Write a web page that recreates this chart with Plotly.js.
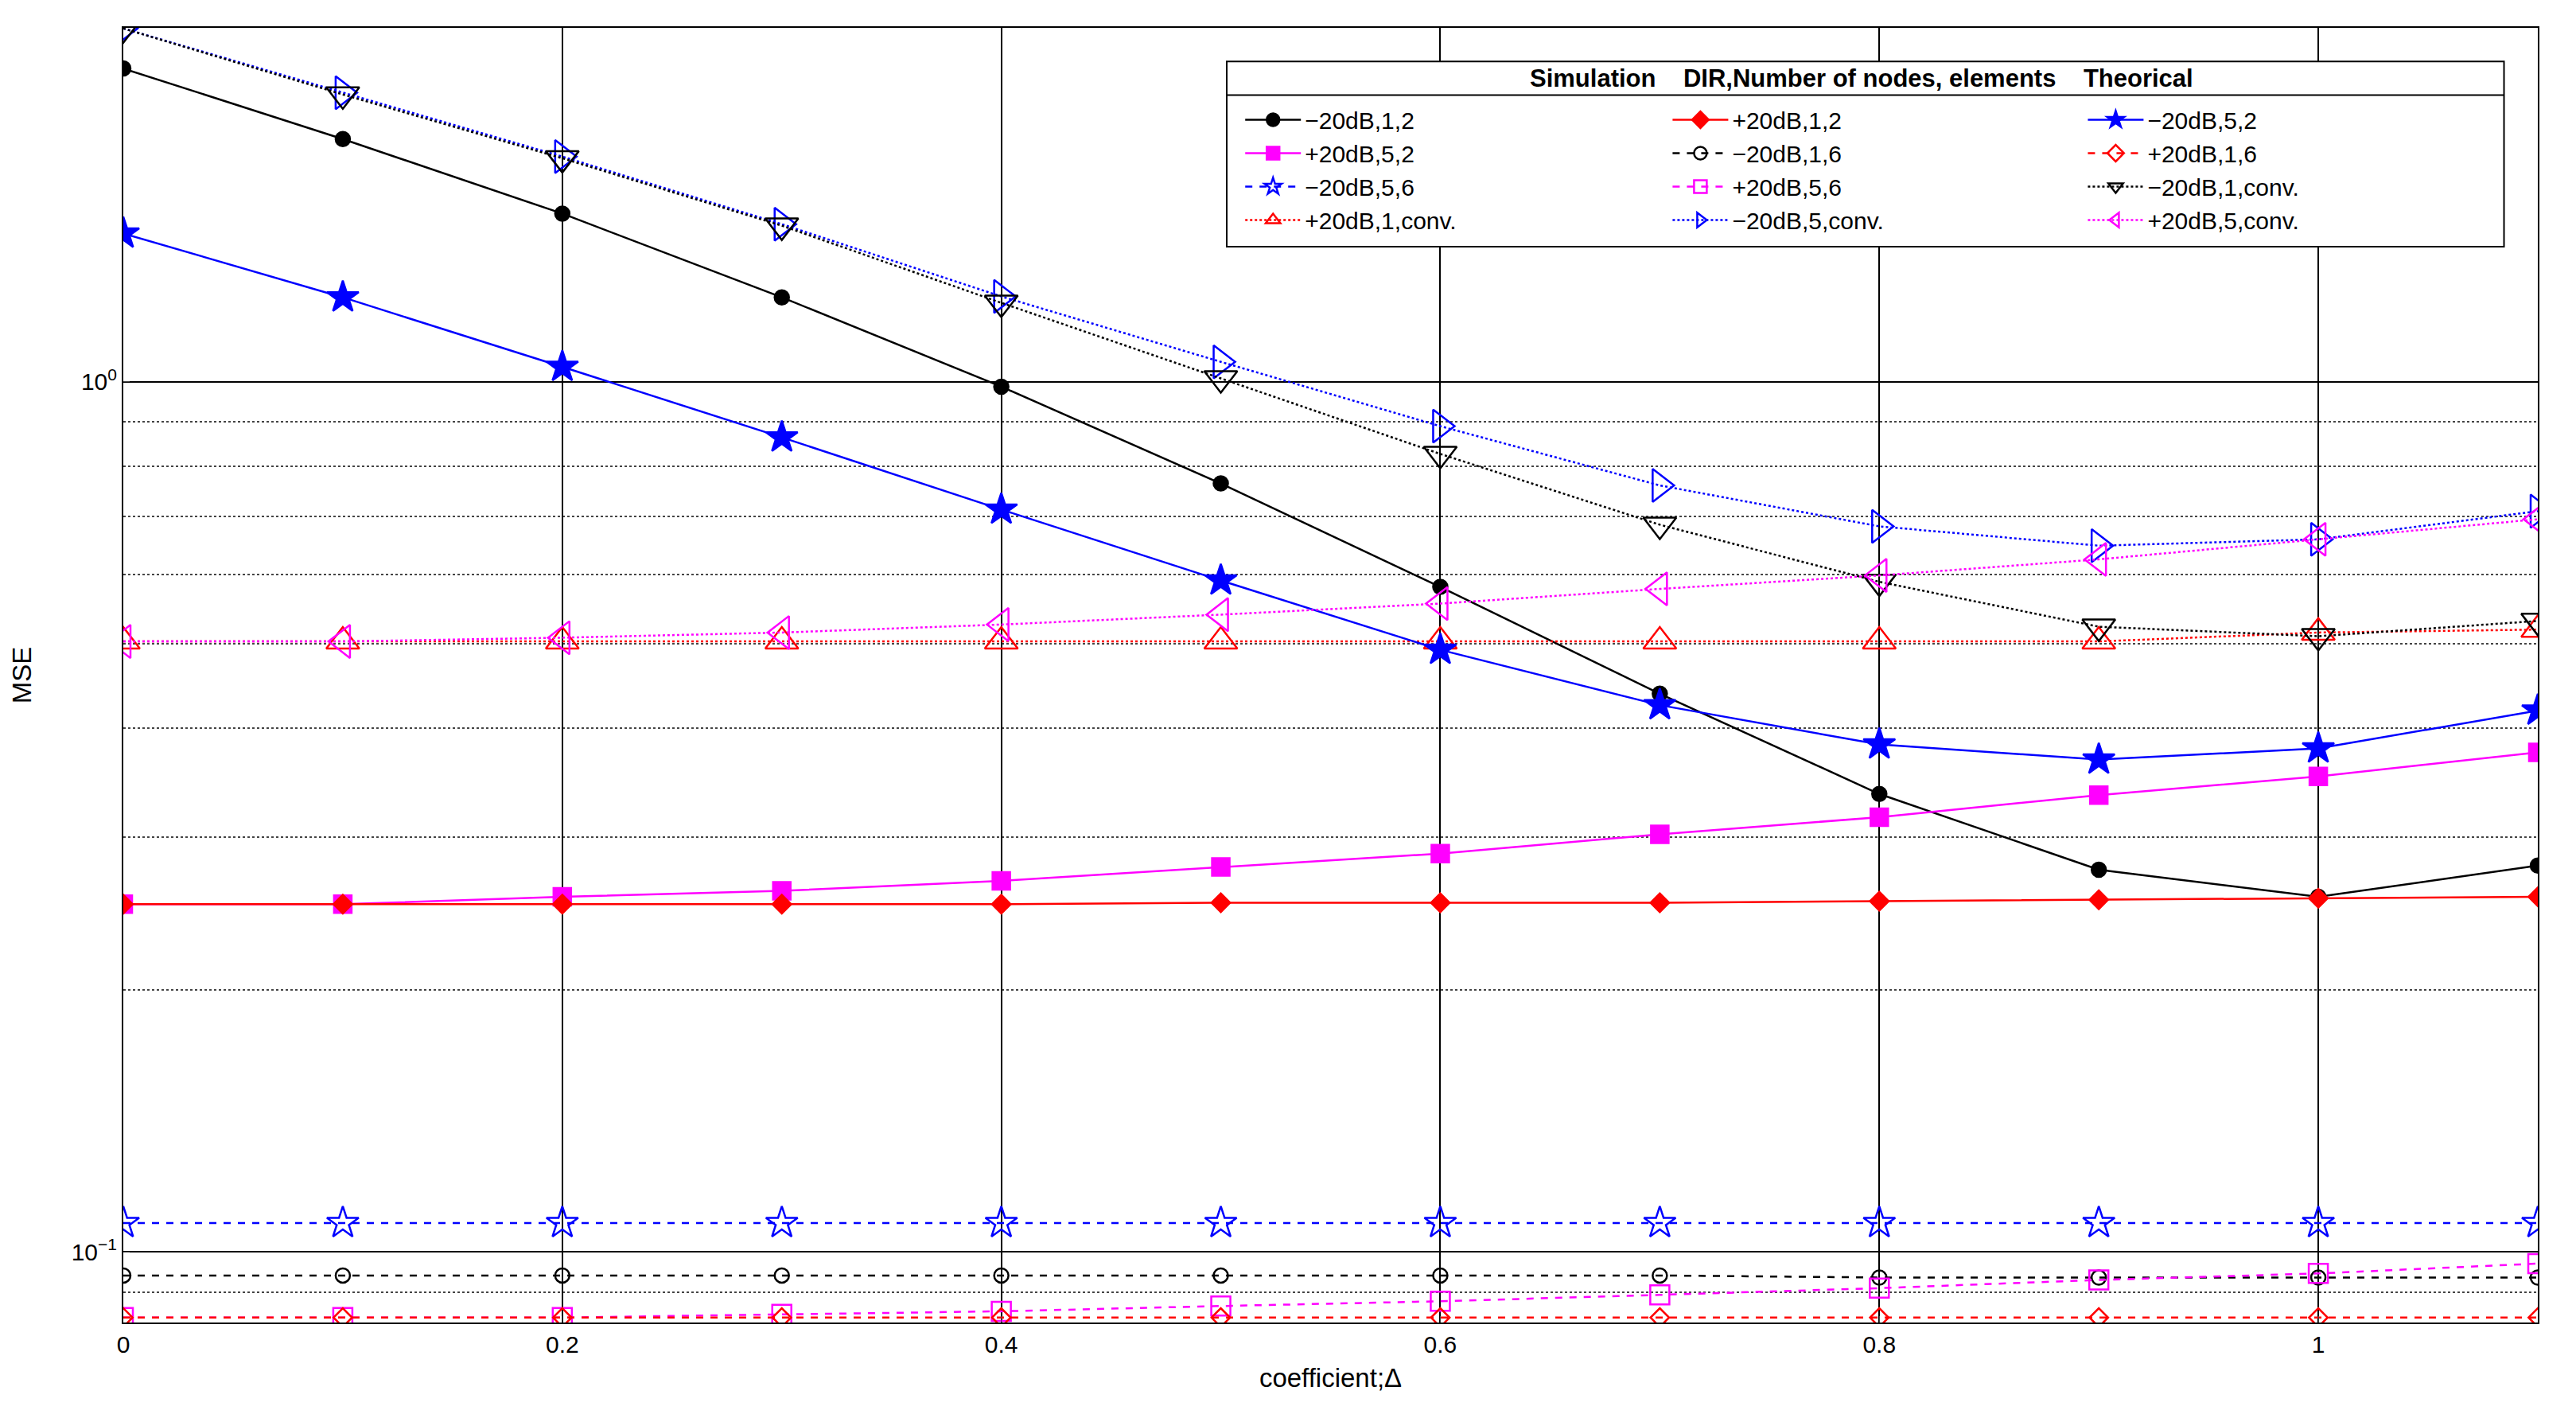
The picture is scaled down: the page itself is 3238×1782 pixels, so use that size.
<!DOCTYPE html>
<html><head><meta charset="utf-8">
<script src="https://cdn.plot.ly/plotly-3.0.1.min.js"></script>
<style>body{margin:0;background:#fff}#c{width:3238px;height:1782px}</style></head>
<body><div id="c"></div>
<script>
const xs = [0,0.1,0.2,0.3,0.4,0.5,0.6,0.7,0.8,0.9,1.0,1.1];
const m20_1_2 = [2.29,1.90,1.56,1.25,0.987,0.764,0.581,0.438,0.336,0.275,0.256,0.278];
const p20_1_2 = [0.251,0.251,0.251,0.251,0.251,0.252,0.252,0.252,0.253,0.254,0.255,0.256];
const m20_5_2 = [1.48,1.25,1.04,0.863,0.713,0.591,0.492,0.425,0.383,0.368,0.379,0.419];
const p20_5_2 = [0.251,0.251,0.256,0.260,0.267,0.277,0.287,0.302,0.316,0.335,0.352,0.375];
const m20_1_6 = [0.094,0.094,0.094,0.094,0.094,0.094,0.094,0.094,0.0935,0.0935,0.0935,0.0935];
const p20_1_6 = [0.0841,0.0841,0.0841,0.0841,0.0841,0.0841,0.0841,0.0841,0.0841,0.0841,0.0841,0.0841];
const m20_5_6 = [0.108,0.108,0.108,0.108,0.108,0.108,0.108,0.108,0.108,0.108,0.108,0.108];
const p20_5_6 = [0.0841,0.0841,0.0841,0.0848,0.0855,0.0867,0.0878,0.0893,0.0909,0.0929,0.0945,0.0970];
const m20_1_conv = [2.546,2.138,1.806,1.511,1.232,1.009,0.826,0.685,0.589,0.523,0.510,0.531];
const p20_1_conv = [0.503,0.503,0.503,0.503,0.503,0.503,0.503,0.503,0.503,0.503,0.515,0.519];
const m20_5_conv = [2.546,2.148,1.814,1.517,1.253,1.054,0.889,0.760,0.682,0.648,0.659,0.710];
const p20_5_conv = [0.503,0.503,0.508,0.515,0.526,0.540,0.556,0.578,0.599,0.625,0.659,0.695];

function tr(name,y,color,dash,sym,open,size,leg){
  return {x:xs,y:y,name:name,type:'scatter',mode:'lines+markers',legend:leg,
    line:{color:color,width:2.5,dash:dash},
    marker:{symbol:sym+(open?'-open':''),size:size,color:color,line:{color:color,width:2.5}}};
}
const traces=[
  tr('\u221220dB,1,2',m20_1_2,'#000','solid','circle',false,18,'legend'),
  tr('+20dB,5,2',p20_5_2,'#ff00ff','solid','square',false,22,'legend'),
  tr('\u221220dB,5,6',m20_5_6,'#0000ff','dash','star',true,30,'legend'),
  tr('+20dB,1,conv.',p20_1_conv,'#ff0000','dot','triangle-up',true,36,'legend'),
  tr('+20dB,1,2',p20_1_2,'#ff0000','solid','diamond',false,18,'legend2'),
  tr('\u221220dB,1,6',m20_1_6,'#000','dash','circle',true,18,'legend2'),
  tr('+20dB,5,6',p20_5_6,'#ff00ff','dash','square',true,24,'legend2'),
  tr('\u221220dB,5,conv.',m20_5_conv,'#0000ff','dot','triangle-right',true,36,'legend2'),
  tr('\u221220dB,5,2',m20_5_2,'#0000ff','solid','star',false,30,'legend3'),
  tr('+20dB,1,6',p20_1_6,'#ff0000','dash','diamond',true,18,'legend3'),
  tr('\u221220dB,1,conv.',m20_1_conv,'#000','dot','triangle-down',true,36,'legend3'),
  tr('+20dB,5,conv.',p20_5_conv,'#ff00ff','dot','triangle-left',true,36,'legend3')
];
function leg(x){return {x:x,y:0.945,xanchor:'left',yanchor:'top',bgcolor:'rgba(0,0,0,0)',borderwidth:0,
  font:{size:30},itemwidth:70,tracegroupgap:0};}
const layout={
  width:3238,height:1782,paper_bgcolor:'#fff',plot_bgcolor:'#fff',
  margin:{l:155,r:48,t:35,b:120},
  font:{family:'Liberation Sans, Arial',size:30,color:'#000'},
  showlegend:true,
  legend:leg(0.463),legend2:leg(0.64),legend3:leg(0.812),
  shapes:[{type:'rect',xref:'paper',yref:'paper',x0:0.457,x1:0.986,y0:0.831,y1:0.974,
    fillcolor:'#fff',line:{color:'#000',width:2},layer:'above'},
    {type:'line',xref:'paper',yref:'paper',x0:0.457,x1:0.986,y0:0.948,y1:0.948,line:{color:'#000',width:2},layer:'above'}],
  annotations:[{xref:'paper',yref:'paper',x:0.72,y:0.961,xanchor:'center',yanchor:'middle',showarrow:false,
    text:'<b>Simulation    DIR,Number of nodes, elements    Theorical</b>',font:{size:31}}],
  xaxis:{range:[0,1.1],tickvals:[0,0.2,0.4,0.6,0.8,1],ticktext:['0','0.2','0.4','0.6','0.8','1'],
    showgrid:true,gridcolor:'#000',gridwidth:2,showline:true,linecolor:'#000',linewidth:2,mirror:true,
    zeroline:false,ticks:'inside',ticklen:8,tickfont:{size:30},
    title:{text:'coefficient;\u0394',font:{size:33},standoff:15}},
  yaxis:{type:'log',range:[Math.log10(0.083),Math.log10(2.55)],tickvals:[0.1,1],
    ticktext:['10<sup>\u22121</sup>','10<sup>0</sup>'],
    showgrid:true,gridcolor:'#000',gridwidth:2,showline:true,linecolor:'#000',linewidth:2,mirror:true,
    zeroline:false,ticks:'inside',ticklen:8,tickfont:{size:30},
    minor:{tickvals:[0.09,0.2,0.3,0.4,0.5,0.6,0.7,0.8,0.9],showgrid:true,gridcolor:'#444',griddash:'dot',gridwidth:1.5,ticks:''},
    title:{text:'MSE',font:{size:33},standoff:40}}
};
Plotly.newPlot('c',traces,layout,{displayModeBar:false});
</script></body></html>
